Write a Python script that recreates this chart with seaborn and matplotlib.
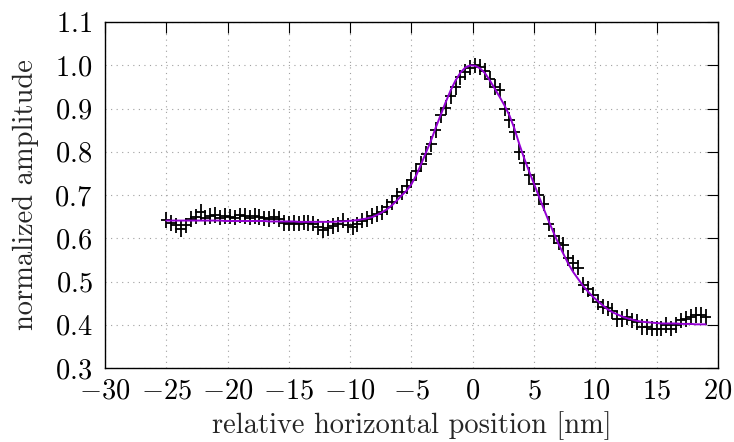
import numpy as np
import pandas as pd
import matplotlib
matplotlib.use("Agg")
import matplotlib.pyplot as plt
import seaborn as sns

# ---- data ----
positions = [
    -25.0, -24.6, -24.2, -23.8, -23.4, -23.0, -22.6, -22.2, -21.8, -21.4,
    -21.0, -20.6, -20.2, -19.8, -19.4, -19.0, -18.6, -18.2, -17.8, -17.4,
    -17.0, -16.6, -16.2, -15.8, -15.4, -15.0, -14.6, -14.2, -13.8, -13.4,
    -13.0, -12.6, -12.2, -11.8, -11.4, -11.0, -10.6, -10.2, -9.8, -9.4,
    -9.0, -8.6, -8.2, -7.8, -7.4, -7.0, -6.6, -6.2, -5.8, -5.4,
    -5.0, -4.6, -4.2, -3.8, -3.4, -3.0, -2.6, -2.2, -1.8, -1.4,
    -1.0, -0.6, -0.2, 0.2, 0.6, 1.0, 1.4, 1.8, 2.2, 2.6,
    3.0, 3.4, 3.8, 4.2, 4.6, 5.0, 5.4, 5.8, 6.2, 6.6,
    7.0, 7.4, 7.8, 8.2, 8.6, 9.0, 9.4, 9.8, 10.2, 10.6,
    11.0, 11.4, 11.8, 12.2, 12.6, 13.0, 13.4, 13.8, 14.2, 14.6,
    15.0, 15.4, 15.8, 16.2, 16.6, 17.0, 17.4, 17.8, 18.2, 18.6,
    19.0,
]

measured = [
    0.642, 0.636, 0.630, 0.622, 0.630, 0.645, 0.650, 0.661, 0.648, 0.652,
    0.654, 0.648, 0.652, 0.650, 0.648, 0.653, 0.651, 0.648, 0.652, 0.649,
    0.646, 0.645, 0.650, 0.644, 0.636, 0.634, 0.635, 0.634, 0.637, 0.636,
    0.634, 0.626, 0.619, 0.624, 0.628, 0.632, 0.641, 0.630, 0.626, 0.632,
    0.641, 0.645, 0.652, 0.656, 0.660, 0.672, 0.683, 0.698, 0.706, 0.720,
    0.735, 0.755, 0.772, 0.795, 0.818, 0.850, 0.884, 0.902, 0.928, 0.950,
    0.972, 0.985, 0.995, 1.000, 0.996, 0.988, 0.968, 0.950, 0.942, 0.900,
    0.873, 0.846, 0.800, 0.774, 0.746, 0.725, 0.700, 0.680, 0.634, 0.605,
    0.590, 0.585, 0.555, 0.543, 0.532, 0.492, 0.483, 0.470, 0.453, 0.442,
    0.438, 0.432, 0.414, 0.414, 0.418, 0.410, 0.406, 0.395, 0.395, 0.391,
    0.391, 0.391, 0.399, 0.391, 0.399, 0.410, 0.414, 0.418, 0.422, 0.422,
    0.418,
]

fitted = [
    0.641, 0.641, 0.641, 0.641, 0.641, 0.641, 0.641, 0.641, 0.641, 0.641,
    0.641, 0.641, 0.640, 0.640, 0.640, 0.640, 0.640, 0.640, 0.640, 0.640,
    0.640, 0.639, 0.639, 0.639, 0.639, 0.639, 0.639, 0.638, 0.638, 0.638,
    0.638, 0.638, 0.638, 0.638, 0.638, 0.639, 0.639, 0.640, 0.641, 0.642,
    0.644, 0.646, 0.649, 0.654, 0.660, 0.667, 0.676, 0.687, 0.699, 0.710,
    0.725, 0.746, 0.772, 0.799, 0.826, 0.857, 0.886, 0.915, 0.942, 0.965,
    0.983, 0.995, 1.000, 0.999, 0.993, 0.982, 0.965, 0.946, 0.927, 0.907,
    0.884, 0.854, 0.818, 0.785, 0.755, 0.726, 0.697, 0.668, 0.640, 0.613,
    0.587, 0.564, 0.541, 0.522, 0.506, 0.490, 0.477, 0.465, 0.455, 0.445,
    0.436, 0.429, 0.424, 0.419, 0.415, 0.412, 0.409, 0.407, 0.406, 0.405,
    0.404, 0.403, 0.403, 0.403, 0.403, 0.402, 0.402, 0.402, 0.401, 0.401,
    0.401,
]

x_error = 0.45
y_error = 0.018

x_ticks = [-30, -25, -20, -15, -10, -5, 0, 5, 10, 15, 20]
y_ticks = [0.3, 0.4, 0.5, 0.6, 0.7, 0.8, 0.9, 1.0, 1.1]

df = pd.DataFrame({"x": positions, "y": measured, "fit": fitted})

# ---- style ----
sns.set_theme(style="white")
plt.rcParams["font.family"] = ["serif"]
plt.rcParams["font.serif"] = ["cmr10", "DejaVu Serif"]
plt.rcParams["mathtext.fontset"] = "cm"
plt.rcParams["axes.formatter.use_mathtext"] = True
plt.rcParams["axes.unicode_minus"] = True

fig = plt.figure(figsize=(7.34, 4.42), dpi=100)
ax = fig.add_axes([0.143, 0.1674, 0.835, 0.7826])

ax.errorbar(df["x"], df["y"], xerr=x_error, yerr=y_error, fmt="none",
            ecolor="black", elinewidth=1.3, capsize=0, zorder=3)
sns.lineplot(data=df, x="x", y="fit", ax=ax, color="#9400d3",
             linewidth=1.4, zorder=4)

ax.set_xlim(-30, 20)
ax.set_ylim(0.3, 1.1)
ax.set_xticks(x_ticks)
ax.set_yticks(y_ticks)
ax.set_xticklabels([f"${t}$" for t in x_ticks])
ax.set_yticklabels([f"${t:.1f}$" for t in y_ticks])

ax.grid(True, color="#a0a0a0", linestyle=(0, (1, 4)), linewidth=0.8)
ax.set_axisbelow(True)

for s in ax.spines.values():
    s.set_visible(True)
    s.set_color("black")
    s.set_linewidth(1.0)

ax.tick_params(direction="in", length=8, width=0.8, top=True, right=True,
               labelsize=20.5, colors="black")
ax.tick_params(axis="x", pad=7)
ax.tick_params(axis="y", pad=9)
ax.set_xlabel("relative horizontal position [nm]", fontsize=20.5, labelpad=5)
ax.set_ylabel("normalized amplitude", fontsize=20.5, labelpad=11)

fig.savefig("out.png", dpi=100)
